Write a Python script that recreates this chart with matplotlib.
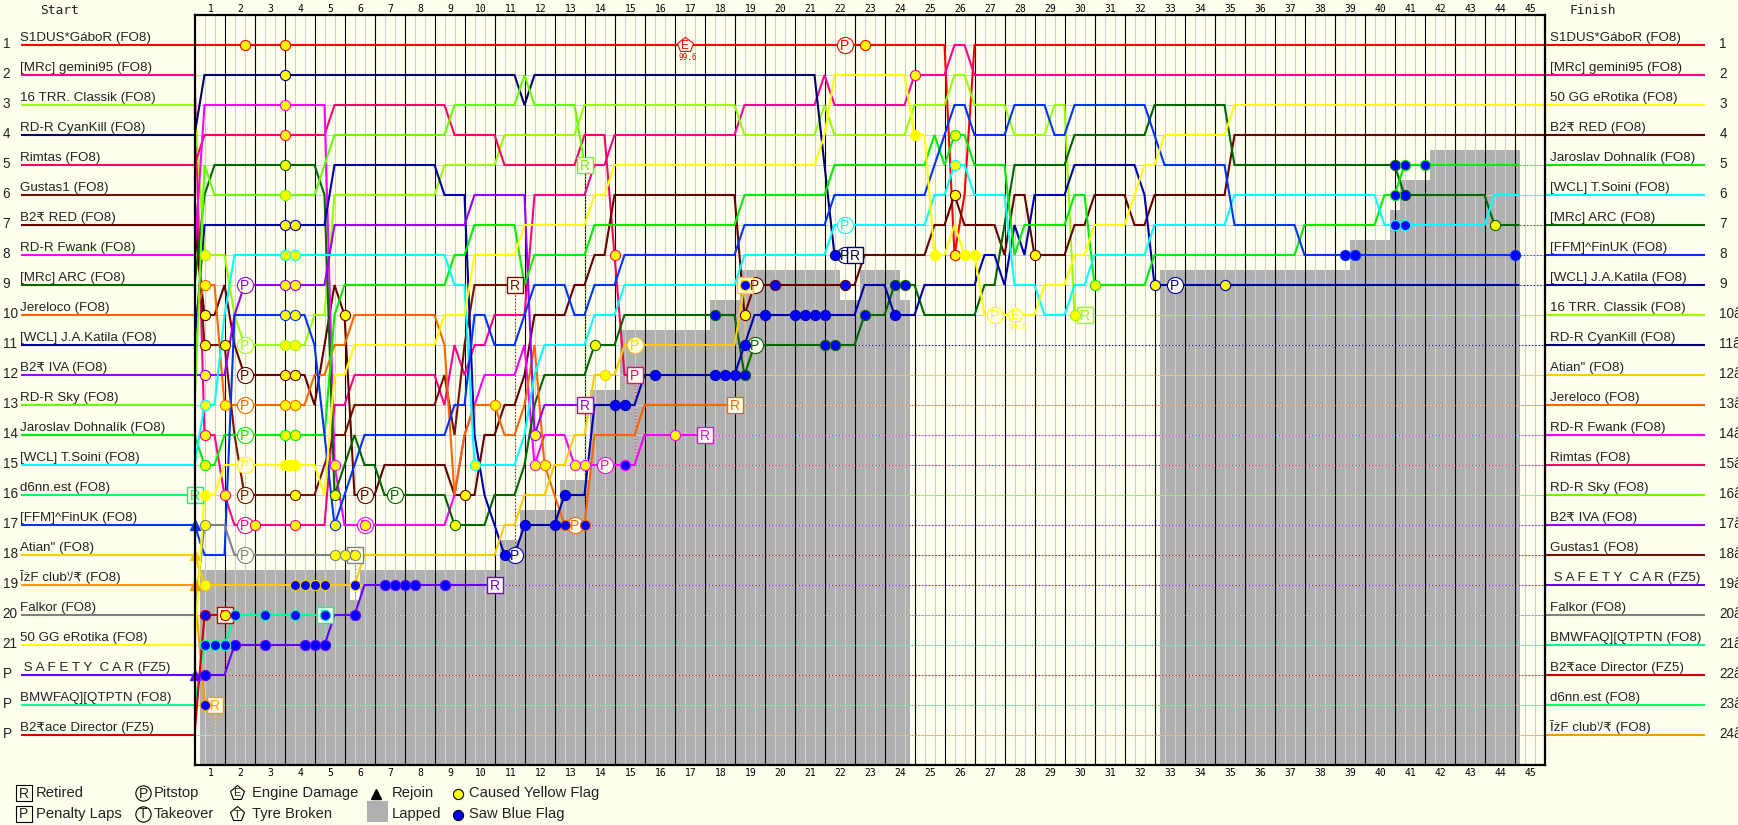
import numpy as np
import matplotlib
matplotlib.use("Agg")
import matplotlib.pyplot as plt

W, H = 1738, 825
BG = "#ffffee"
plt.rcParams["font.family"] = ["Liberation Sans", "DejaVu Sans", "Noto Sans CJK JP"]

TOTAL_SECTORS = 135
LAPS = list(range(1, 46))

red_path = [(0,1),(75,1),(76,8),(77,6),(78,1)]
gemini_path = [(0,2),(1,14),(3,16),(4,17),(14,13),(16,12),(25,13),(26,11),(27,12),(28,11),(30,10),(34,6),(40,5),(42,4),(55,3),(63,2),(64,3),(72,2),(76,1),(78,2)]
classik_path = [(0,3),(1,8),(4,10),(5,11),(12,10),(14,6),(25,5),(31,4),(39,3),(55,4),(63,3),(64,4),(72,3),(76,2),(78,3),(82,4),(86,3),(88,10)]
cyankill_path = [(0,4),(1,2),(33,3),(34,2),(63,5),(64,8)]
rimtas_path = [(0,5),(1,4),(14,3),(26,4),(31,5),(39,4),(42,8),(43,12)]
gustas_path = [(0,6),(1,11),(4,14),(5,16),(13,15),(14,14),(16,13),(25,12),(26,14),(27,11),(28,9)]
b2red_path = [(0,7),(1,10),(3,9),(4,11),(5,12),(12,13),(13,11),(14,9),(15,10),(16,16),(19,15),(26,16),(29,14),(31,13),(33,12),(34,10),(38,9),(40,8),(42,6),(55,10),(56,9),(67,8),(74,7),(76,6),(77,7),(81,8),(82,6),(84,8),(88,7),(90,6),(94,7),(96,6),(104,4)]
fwank_path = [(0,8),(1,3),(14,15),(15,17),(26,16),(27,14),(28,13),(29,12),(33,11),(34,15),(35,14),(38,15),(45,14)]
arc_path = [(0,9),(1,6),(2,5),(13,6),(14,16),(15,15),(16,14),(17,15),(19,16),(26,17),(30,16),(33,15),(34,13),(35,12),(40,11),(43,10),(55,12),(56,11),(67,10),(70,9),(73,10),(79,9),(81,7),(82,5),(88,4),(96,3),(104,5),(121,6),(130,7)]
jereloco_path = [(0,10),(1,9),(3,13),(12,12),(14,11),(16,10),(25,11),(26,16),(27,14),(28,13),(31,14),(33,13),(34,11),(35,15),(36,16),(37,17),(40,14),(45,13)]
katila_path = [(0,11),(1,7),(14,5),(25,6),(28,14),(29,16),(30,17),(31,18),(33,17),(37,16),(40,13),(45,12),(55,11),(56,10),(67,9),(70,10),(73,9),(79,8),(81,9),(82,7),(83,8),(84,6),(88,5),(95,6),(96,9)]
iva_path = [(0,12),(4,10),(5,9),(14,7),(28,6),(34,14),(35,13)]
sky_path = [(0,13),(1,5),(2,6),(13,5),(14,4),(26,3),(33,2),(34,3),(39,5)]
jaroslav_path = [(0,14),(1,15),(3,14),(14,10),(15,9),(26,8),(28,7),(33,9),(34,8),(40,7),(55,6),(64,5),(74,4),(75,5),(76,4),(78,5),(82,8),(83,7),(88,6),(90,9),(96,8),(111,7),(119,6),(121,5)]
soini_path = [(0,15),(1,13),(3,10),(4,8),(26,9),(28,15),(33,14),(34,12),(35,11),(40,10),(43,9),(55,8),(64,7),(74,6),(76,5),(78,6),(82,9),(85,10),(88,9),(90,8),(96,7),(104,6),(119,7),(130,6)]
d6nn_path = [(0,16)]
finuk_path = [(0,17),(1,18),(4,10),(12,11),(13,14),(14,17),(15,16),(16,15),(17,14),(26,13),(28,10),(30,11),(33,10),(34,9),(38,10),(40,9),(43,8),(55,7),(64,6),(74,5),(75,4),(76,3),(78,4),(82,3),(86,4),(88,3),(96,4),(97,5),(104,7),(111,8)]
atian_path = [(0,18),(1,19),(17,18),(31,17),(33,16),(36,15),(38,14),(40,12),(43,11),(55,9)]
club_path = [(0,19),(1,23)]
falkor_path = [(0,20),(1,17),(4,18)]
gg_path = [(0,21),(1,16),(3,15),(13,16),(14,12),(16,11),(25,10),(28,8),(33,7),(40,6),(42,5),(63,4),(64,2),(72,4),(74,8),(76,7),(77,8),(79,10),(85,9),(88,8),(90,7),(94,6),(95,5),(97,4),(104,3)]
sc_path = [(0,22),(4,21),(14,20),(17,19)]
bmw_path = [(0,23),(1,21),(4,20)]
director_path = [(0,24),(1,20)]

names = ["S1DUS*GáboR (FO8)", "[MRc] gemini95 (FO8)", "16 TRR. Classik (FO8)", "RD-R CyanKill (FO8)",
         "Rimtas (FO8)", "Gustas1 (FO8)", "B2₹ RED (FO8)", "RD-R Fwank (FO8)", "[MRc] ARC (FO8)",
         "Jereloco (FO8)", "[WCL] J.A.Katila (FO8)", "B2₹ IVA (FO8)", "RD-R Sky (FO8)",
         "Jaroslav Dohnalík (FO8)", "[WCL] T.Soini (FO8)", "d6nn.est (FO8)", "[FFM]^FinUK (FO8)",
         "Atian\" (FO8)", "ĪżF clubｿ₹ (FO8)", "Falkor (FO8)", "50 GG eRotika (FO8)",
         " S A F E T Y  C A R (FZ5)", "BMWFAQ][QTPTN (FO8)", "B2₹ace Director (FZ5)"]
colors = ["#ff0000", "#ff0090", "#99ff00", "#000070", "#ff0066", "#771100", "#660000", "#ff00ff",
          "#006600", "#ff6600", "#0000aa", "#9900ff", "#66ff00", "#00ee00", "#00ffff", "#00ff66",
          "#0033ff", "#ffcc00", "#ff9900", "#808080", "#ffff00", "#6600ff", "#00ff99", "#cc0000"]
paths = [red_path, gemini_path, classik_path, cyankill_path, rimtas_path, gustas_path, b2red_path,
         fwank_path, arc_path, jereloco_path, katila_path, iva_path, sky_path, jaroslav_path,
         soini_path, d6nn_path, finuk_path, atian_path, club_path, falkor_path, gg_path, sc_path,
         bmw_path, director_path]
start_labels = [str(i) for i in range(1, 22)] + ["P", "P", "P"]
finish_rows = [1, 2, 10, 11, 15, 18, 4, 14, 7, 13, 9, 17, 16, 5, 6, 23, 8, 12, 24, 20, 3, 19, 21, 22]
finish_labels = [str(i) for i in range(1, 10)] + [f"{i}â" for i in range(10, 25)]
last_sector = [135, 135, 89, 66, 44, 32, 135, 51, 132.5, 54, 132.5, 39, 39, 132.5, 132.5, 0, 132.5,
               55, 2, 16, 135, 30, 13, 3]
retire_glyph = ["", "", "R", "R", "P", "R", "", "R", "", "R", "", "R", "R", "", "", "R", "", "R", "R",
                "R", "", "R", "R", "R"]

yellow = [[5, 9, 67, 76], [1, 3, 6, 10, 72], [1, 9, 10, 88], [9], [9, 42], [1, 3, 10],
          [1, 9, 10, 15, 27, 55, 76, 84], [9, 14, 17, 34, 38, 39, 48], [9, 14, 26, 40, 130],
          [1, 3, 9, 10, 30, 35], [9, 10, 96, 103], [1, 9, 10, 34], [9], [1, 9, 10, 76, 90],
          [1, 9, 10, 28, 76], [], [9, 10, 14], [1, 41], [], [1, 14, 15, 16],
          [1, 9, 9.5, 10, 72, 74, 77, 78], [], [], [3]]
blue = [[], [], [], [64], [], [], [58, 65], [43], [52, 55, 63, 64, 67, 70, 71, 120, 121], [37, 39],
        [31, 33, 36, 37, 42, 43, 46, 52, 53, 54, 55, 57, 60, 61, 62, 63, 70], [], [], [120, 121, 123],
        [120, 121], [], [115, 116, 132], [10, 11, 12, 13, 16, 55], [1], [], [],
        [1, 4, 7, 11, 12, 13, 16, 19, 20, 21, 22, 25], [1, 2, 3, 4, 7, 10, 13], [1]]
pits = [[65], [5], [5], [65], [], [5], [5, 17, 56], [17, 41], [20, 56], [5, 38], [32, 98], [5], [],
        [5], [65], [], [], [44], [], [5], [5, 80], [], [], []]
engine = [[49], [], [], [], [], [], [], [], [], [], [], [], [], [], [], [], [], [], [], [], [82], [], [], []]
engine_text = "99.6"
rejoin = [16, 17, 18, 21]

lap_start = [0.5, 15.5, 16.5, 30.5, 32.5, 36.5, 39.5, 42.5, 51.5, 54.5, 64.5, 66.5, 70.5, 96.5, 115.5, 119.5, 120.5, 123.5]
lap_end = [15.5, 16.5, 30.5, 32.5, 36.5, 39.5, 42.5, 51.5, 54.5, 64.5, 66.5, 70.5, 71.5, 115.5, 119.5, 120.5, 123.5, 132.5]
lap_top = [18.5, 19.5, 18.5, 17.5, 16.5, 15.5, 12.5, 10.5, 9.5, 8.5, 9.5, 8.5, 9.5, 8.5, 7.5, 6.5, 5.5, 4.5]


def expand(path):
    out = np.full(TOTAL_SECTORS + 1, np.nan)
    for s, r in path:
        out[s:] = r
    return out


def px(v):
    return (v - 194) / 10.0


fig = plt.figure(figsize=(W / 100, H / 100), dpi=100, facecolor=BG)
ax = fig.add_axes([194.5 / W, 1 - 765 / H, 1350 / W, 750 / H], facecolor=BG)
ax.set_xlim(0, TOTAL_SECTORS)
ax.set_ylim(25, 0)
ax.set_yticks([])

ax.bar(lap_start, [25 - t for t in lap_top], bottom=lap_top, width=np.subtract(lap_end, lap_start),
       align="edge", color="#b0b0b0", linewidth=0, zorder=1)

for s in range(1, TOTAL_SECTORS):
    major = s % 3 == 0
    ax.axvline(s, color="black" if major else "#cfcfcf", lw=0.8, zorder=3 if major else 2)
for r in range(1, 25):
    ax.axhline(r, color="#cfcfcf", lw=0.72, zorder=2)

for sp in ax.spines.values():
    sp.set_linewidth(1.6)
    sp.set_zorder(10)

tick_pos = [3 * k - 1.4 for k in LAPS]
tick_txt = [str(k) for k in LAPS]
ax.set_xticks(tick_pos, tick_txt, family="DejaVu Sans Mono", fontsize=7)
ax.tick_params(axis="x", length=0, pad=2.2)
top_axis = ax.secondary_xaxis("top")
top_axis.set_xticks(tick_pos, tick_txt, family="DejaVu Sans Mono", fontsize=7)
top_axis.tick_params(axis="x", length=0, pad=0.6)
top_axis.spines["top"].set_visible(False)

LW = 1.5
sector_axis = np.arange(TOTAL_SECTORS + 1)
positions = [expand(p) for p in paths]


def row_at(i, s):
    return np.interp(s, sector_axis, positions[i])


for i, c in enumerate(colors):
    end = last_sector[i]
    xs = sector_axis[sector_axis <= end].astype(float)
    ys = positions[i][:len(xs)]
    if end > xs[-1]:
        xs = np.append(xs, end)
        ys = np.append(ys, row_at(i, end))
    ax.plot(xs, ys, color=c, lw=LW, zorder=5, solid_capstyle="butt", solid_joinstyle="miter")
    if end < TOTAL_SECTORS:
        ax.plot([end, end], [row_at(i, end), finish_rows[i]], color=c, lw=0.8,
                ls=(0, (1, 2)), zorder=4)
        ax.plot([end, TOTAL_SECTORS], [finish_rows[i]] * 2, color=c, lw=0.8,
                ls=(0, (1, 2)), zorder=4)

for i, c in enumerate(colors):
    start_row = paths[i][0][1]
    ax.plot([px(20), 0], [start_row] * 2, color=c, lw=LW, clip_on=False, zorder=5, solid_capstyle="butt")
    ax.text(px(20), start_row - 0.14, names[i], fontsize=9.6, color="#222222", va="baseline", ha="left", clip_on=False)
    ax.text(px(2), start_row + 0.1, start_labels[start_row - 1], fontsize=9.8, color="#222222", va="baseline", ha="left", clip_on=False)
    fr = finish_rows[i]
    ax.plot([TOTAL_SECTORS, px(1704)], [fr] * 2, color=c, lw=LW, clip_on=False, zorder=5, solid_capstyle="butt")
    ax.text(px(1549), fr - 0.14, names[i], fontsize=9.6, color="#222222", va="baseline", ha="left", clip_on=False)
    ax.text(px(1719), fr + 0.1, finish_labels[fr - 1], fontsize=9.8, color="#222222", va="baseline", ha="left", clip_on=False)

ax.text(px(40), -0.15, "Start", family="DejaVu Sans Mono", fontsize=9.3, color="#222222", va="center", ha="left", clip_on=False)
ax.text(px(1569), -0.15, "Finish", family="DejaVu Sans Mono", fontsize=9.3, color="#222222", va="center", ha="left", clip_on=False)


def glyph(x, y, txt, c, size=10):
    ax.text(x, y + 0.02, txt, color=c, fontsize=size, ha="center", va="center", zorder=8, clip_on=False)


for i, c in enumerate(colors):
    for s in pits[i]:
        ax.plot([s], [row_at(i, s)], "o", ms=11.6, mfc=BG, mec=c, mew=0.8, zorder=7)
        glyph(s, row_at(i, s), "P", c)
    for s in engine[i]:
        ax.plot([s], [row_at(i, s)], "p", ms=11.5, mfc=BG, mec=c, mew=0.8, zorder=7)
        glyph(s, row_at(i, s), "E", c, 8.5)
        ax.text(s + 0.35, row_at(i, s) + 0.42, engine_text, color=c, family="DejaVu Sans Mono", fontsize=5.6,
                ha="center", va="center", zorder=8)
    if retire_glyph[i]:
        end = last_sector[i]
        ax.plot([end], [row_at(i, end)], "s", ms=11, mfc=BG, mec=c, mew=1.0, zorder=7, clip_on=False)
        glyph(end, row_at(i, end), retire_glyph[i], c)

for i in rejoin:
    ax.plot([0], [paths[i][0][1]], "^", ms=7, color=colors[i], zorder=9, clip_on=False)

for i, c in enumerate(colors):
    for s in yellow[i]:
        ax.plot([s], [row_at(i, s)], "o", ms=7.3, mfc="#ffff00", mec=c, mew=0.8, zorder=9)
    for s in blue[i]:
        ax.plot([s], [row_at(i, s)], "o", ms=7.3, mfc="#0000ff", mec=c, mew=0.8, zorder=9)

lg = fig.add_axes([0, 0, 1, 1], facecolor="none")
lg.set_xlim(0, W)
lg.set_ylim(H, 0)
lg.axis("off")
LFS = 10.6
ROW_A, ROW_B = 793, 814
for x, y, m, g in [(24, ROW_A, "s", "R"), (24, ROW_B, "s", "P"), (143, ROW_A, "o", "P"), (143, ROW_B, "o", "T"),
                   (237, ROW_A, "p", "E"), (237, ROW_B, "p", "T")]:
    lg.plot([x], [y], m, ms=11, mfc=BG, mec="black", mew=0.8)
    lg.text(x, y + 0.5, g, fontsize=10 if m != "p" else 8, color="#222222", ha="center", va="center")
for x, y, t in [(36, ROW_A, "Retired"), (36, ROW_B, "Penalty Laps"), (154, ROW_A, "Pitstop"), (154, ROW_B, "Takeover"),
                (252, ROW_A, "Engine Damage"), (252, ROW_B, "Tyre Broken"), (392, ROW_A, "Rejoin"), (392, ROW_B, "Lapped"),
                (469, ROW_A, "Caused Yellow Flag"), (469, ROW_B, "Saw Blue Flag")]:
    lg.text(x, y, t, fontsize=LFS, color="#222222", ha="left", va="center")
lg.plot([376], [ROW_A + 1], "^", ms=6.5, color="black")
lg.bar([367], [21], bottom=[801], width=[21], align="edge", color="#b0b0b0", linewidth=0)
lg.plot([458], [ROW_A + 1], "o", ms=7.3, mfc="#ffff00", mec="black", mew=0.8)
lg.plot([458], [ROW_B + 1], "o", ms=7.3, mfc="#0000ff", mec="black", mew=0.8)

fig.savefig("out.png", dpi=100, facecolor=BG)
